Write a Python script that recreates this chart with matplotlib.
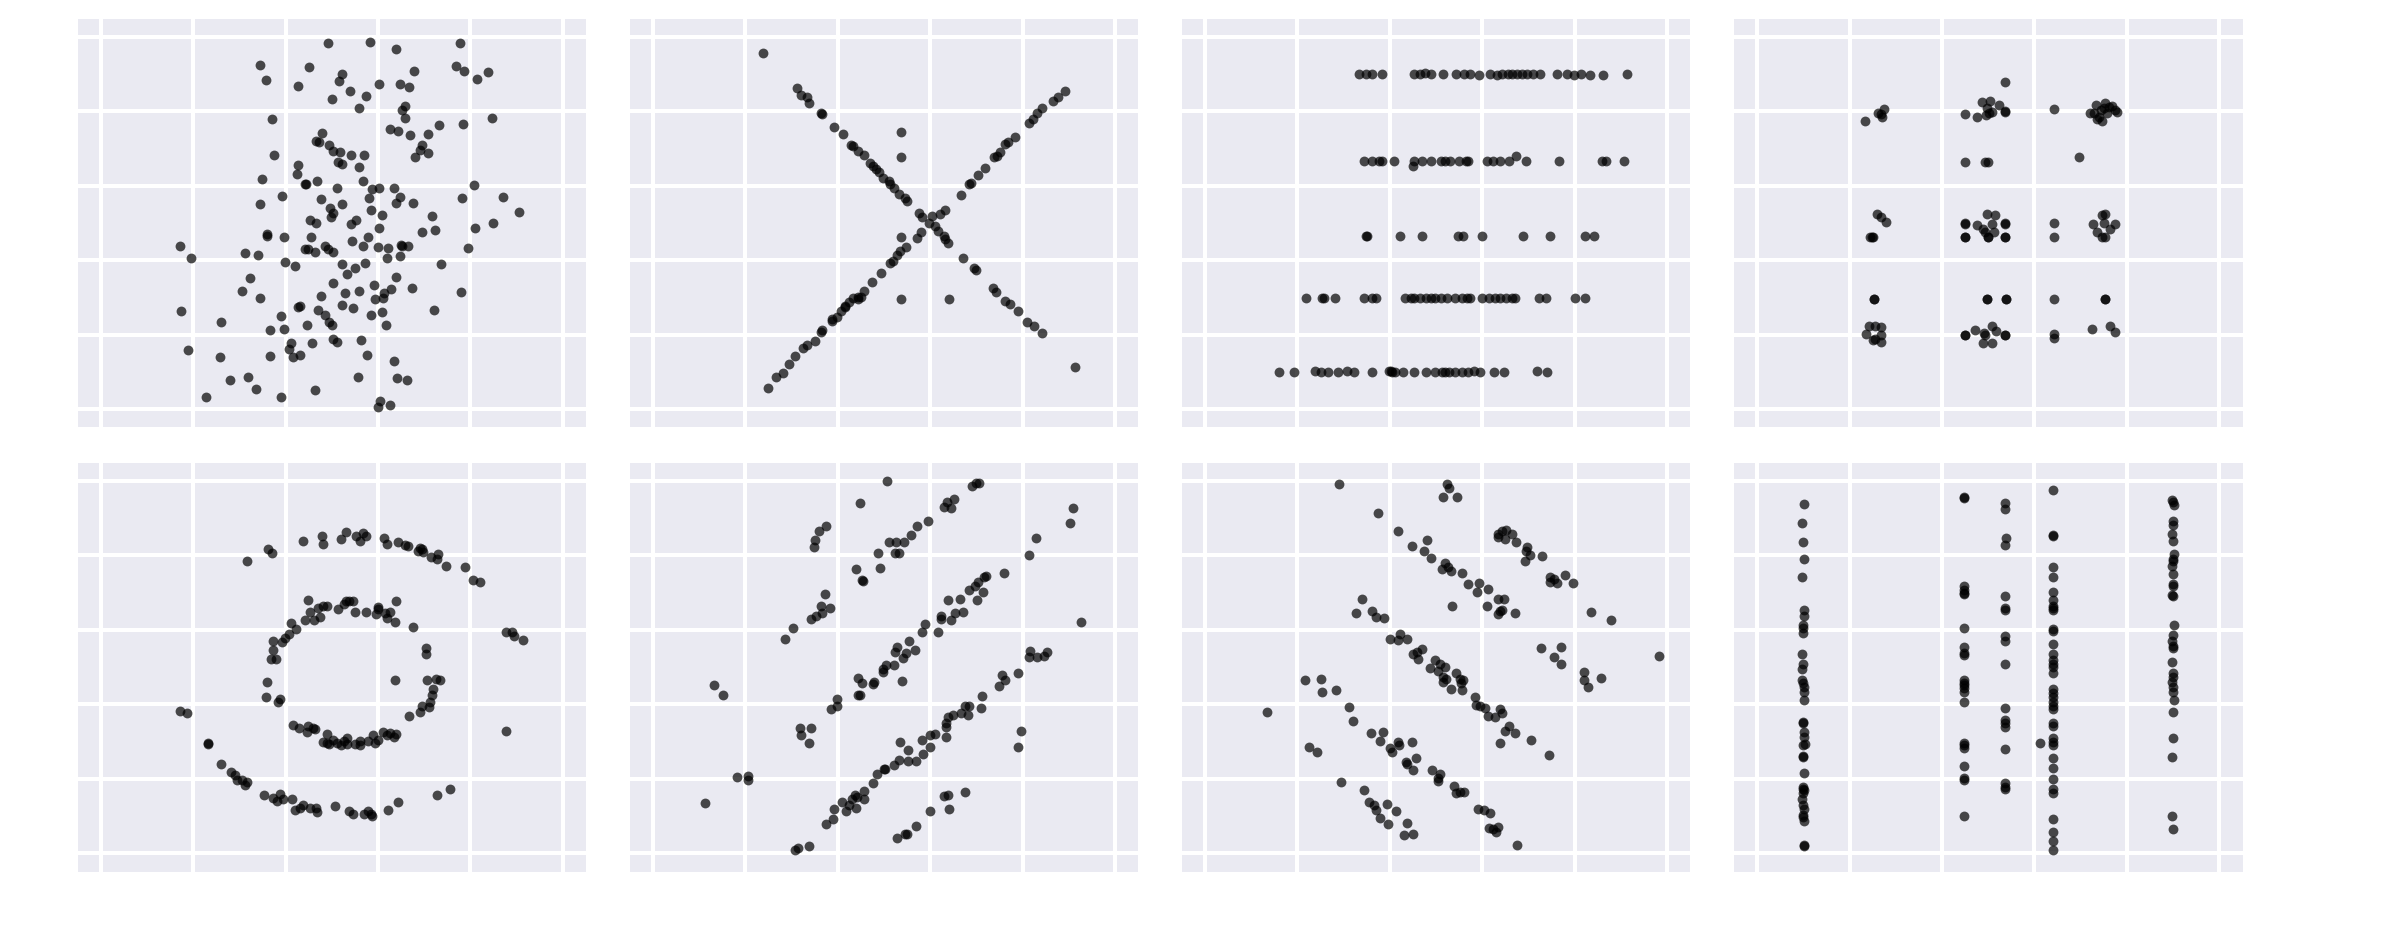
import matplotlib
matplotlib.use("Agg")
import matplotlib.pyplot as plt
import numpy as np

# ---------------- data ----------------
away_x = [49.2,58.3,63.9,77.8,34.5,45.1,52.2,51.6,35.7,42.7,60.2,64.7,66.7,67.8,76.9,78.6,81.5,83.8,53.9,57.5,
          50.0,56.0,65.8,65.2,65.8,37.1,84.6,78.4,73.2,62.7,64.3,66.9,70.9,48.0,46.7,47.2,49.5,69.6,69.2,70.9,
          68.1,50.2,51.7,54.2,57.0,37.5,51.4,52.2,56.0,42.7,42.4,34.9,44.2,44.5,46.9,56.7,51.2,58.7,60.3,63.4,
          80.8,39.3,34.5,47.7,58.1,64.7,63.8,67.6,52.3,78.2,87.0,90.6,49.6,50.2,49.8,58.6,60.9,71.7,45.2,46.7,
          55.2,54.2,60.3,69.5,72.4,81.0,84.9,36.1,36.0,39.7,45.6,57.9,54.4,17.2,48.5,49.2,50.2,44.2,44.9,46.3,
          56.7,59.9,62.1,65.0,65.2,66.5,79.4,64.7,62.0,19.5,31.3,34.0,39.8,42.0,52.2,55.1,57.2,73.6,53.2,63.9,
          32.4,50.3,59.2,62.8,67.4,30.6,52.8,55.9,61.3,47.7,34.5,78.0,59.4,61.1,52.2,54.5,42.8,43.1,47.0,17.4,
          72.1,58.5,60.9,39.0,48.6,26.0,49.4,50.0,44.7,61.7,36.7,39.6,50.2,51.1,56.4,45.7,41.2,40.8,19.0,25.9,
          36.6,41.6,43.2,57.6,63.4,31.9,27.9,55.6,64.1,66.2,33.6,46.3,22.8,39.1,60.4,59.9,62.5]
away_y = [98.5,98.7,96.9,98.3,92.5,92.0,90.0,88.2,88.5,86.9,87.4,87.5,86.5,90.9,92.1,91.0,88.7,90.5,85.4,84.2,
          83.4,81.0,81.4,80.4,78.2,77.9,78.3,76.7,76.4,75.2,74.7,73.8,73.9,74.1,72.0,71.8,70.9,70.9,69.6,68.8,
          67.8,69.4,69.1,68.3,68.3,68.3,66.3,65.9,65.0,65.6,63.1,61.8,60.6,60.4,61.2,61.4,59.3,59.1,59.5,59.5,
          60.2,57.3,55.1,56.5,56.8,56.9,55.5,55.3,55.0,56.8,57.1,52.9,53.9,52.7,51.5,53.5,52.1,51.8,50.7,49.9,
          50.7,49.8,48.6,47.6,48.0,48.7,49.9,47.0,46.6,46.3,46.2,46.3,45.2,43.8,43.9,43.0,42.1,43.1,43.1,42.1,
          43.7,43.6,43.3,44.2,43.7,43.7,43.4,41.2,40.6,40.5,41.8,41.3,39.6,38.5,39.0,37.8,39.2,39.0,36.4,35.5,
          35.1,33.8,33.2,32.3,32.5,31.8,31.3,31.8,31.2,30.4,29.7,31.5,29.6,29.9,27.9,27.2,27.4,27.7,26.7,26.4,
          26.6,25.3,26.1,25.0,25.2,23.5,23.5,22.5,22.7,22.7,21.3,21.5,18.9,17.9,18.5,17.6,17.6,16.1,15.9,13.9,
          14.1,14.0,14.5,14.6,12.8,8.5,7.7,8.7,8.4,7.7,5.4,5.2,3.3,3.2,2.1,0.6,1.0]

x_shape_x = [23.8,31.2,32.1,33.3,33.8,36.4,36.6,39.3,41.1,42.9,43.4,44.4,45.7,47.0,47.6,48.3,49.0,49.9,51.0,51.4,
             52.2,53.2,54.5,55.0,57.5,58.2,59.8,61.1,61.8,62.9,63.3,63.9,67.1,69.4,69.9,73.7,74.2,76.3,77.3,79.0,
             80.9,82.5,84.2,91.4,53.8,53.8,53.6,53.8,64.0,
             24.9,26.6,28.2,29.4,30.8,32.6,33.3,35.0,36.4,36.7,38.7,39.8,40.7,41.6,42.5,43.4,44.4,45.1,45.7,47.4,
             49.4,51.4,51.9,52.8,53.5,54.8,57.1,58.1,60.4,62.2,63.3,66.7,68.5,68.9,70.3,71.9,73.9,74.5,75.2,76.3,
             76.8,78.4,81.3,82.2,83.1,84.3,86.5,87.7,89.1,44.5,41.6,38.7]
x_shape_y = [95.6,86.4,84.5,84.0,82.4,79.7,79.3,75.9,73.9,71.0,70.7,69.4,68.2,66.2,65.3,64.6,63.8,62.1,61.2,60.6,
             59.3,57.9,56.8,55.8,52.7,51.6,50.1,49.1,47.8,46.4,45.8,44.6,40.7,37.9,37.4,32.6,31.4,29.1,28.1,26.4,
             23.4,22.2,20.3,11.2,74.5,67.8,46.2,29.5,29.5,
             5.6,8.6,9.7,12.2,14.3,16.3,17.2,18.2,20.6,21.2,23.7,24.6,26.4,27.8,28.8,29.9,30.2,30.2,31.8,34.0,
             36.5,39.2,39.9,41.5,42.6,43.5,46.0,47.6,51.8,52.5,53.6,57.6,60.6,60.8,63.0,64.7,67.8,68.0,69.2,71.2,
             71.8,73.2,76.8,77.9,79.5,80.8,82.9,84.0,85.6,29.6,27.3,24.1]

h_lines_x = [33.4,34.9,36.2,38.2,45.3,46.5,47.6,49.0,51.5,54.2,56.0,57.3,59.2,61.6,63.1,64.2,65.6,66.4,67.6,68.5,
             69.7,70.9,72.4,76.2,78.4,79.8,81.3,83.4,86.1,91.3,
             34.3,36.2,37.7,38.2,40.9,44.9,45.3,46.9,48.8,51.1,51.9,53.1,55.0,56.5,57.0,61.0,62.3,63.9,65.7,67.2,
             69.5,76.5,85.8,86.7,90.6,
             34.9,35.0,42.2,46.9,54.8,55.9,60.0,68.9,74.6,82.3,84.2,
             21.9,25.4,25.7,28.2,34.4,36.2,37.0,43.2,44.5,45.3,46.5,47.8,49.0,49.8,51.1,52.3,54.0,55.6,56.7,57.3,
             60.0,61.4,62.7,63.9,65.2,66.4,67.0,72.2,73.7,80.0,82.3,
             16.0,19.3,23.9,25.0,26.6,28.7,30.8,32.2,36.2,39.9,40.5,41.1,42.8,45.3,47.8,49.8,51.2,52.7,54.0,55.6,
             56.9,58.3,59.4,62.5,64.7,71.8,73.9,40.3,52.0]
h_lines_y = [90.0,90.0,90.2,90.0,90.0,90.0,90.3,90.0,90.0,90.2,90.0,90.1,89.8,90.1,89.9,90.0,90.1,90.0,90.0,90.1,
             90.0,90.0,90.2,90.0,90.0,89.9,90.0,89.9,89.9,90.0,
             66.6,66.6,66.6,66.6,66.6,65.3,66.6,66.6,66.6,66.6,66.6,66.6,66.6,66.6,66.6,66.6,66.6,66.6,66.6,68.0,
             66.6,66.6,66.6,66.6,66.6,
             46.4,46.4,46.4,46.4,46.4,46.4,46.4,46.4,46.4,46.4,46.4,
             29.9,29.9,29.9,29.9,29.9,29.9,29.9,29.9,29.9,29.9,29.9,29.9,29.9,29.9,29.9,29.9,29.9,29.9,29.9,29.9,
             29.9,29.9,29.9,29.9,29.9,29.9,29.9,29.9,29.9,29.9,29.9,
             9.9,9.9,10.1,9.9,10.0,9.9,10.1,9.9,9.9,10.1,9.8,9.9,10.0,9.9,9.8,10.0,9.9,10.0,9.9,10.0,
             9.9,10.1,9.9,10.0,9.8,10.2,9.9,10.1,9.9]

dots_x = [23.4,26.2,26.9,27.0,27.5,53.6,48.7,50.3,52.3,49.7,50.8,49.5,44.9,47.6,53.7,53.7,50.1,
          64.2,72.8,73.2,74.3,75.3,76.8,77.5,77.9,73.9,74.7,73.5,75.0,76.1,72.1,75.7,69.7,44.9,49.2,49.9,
          26.0,26.9,27.8,24.5,25.0,24.8,49.7,51.5,44.9,44.9,47.6,48.8,50.8,49.4,51.2,53.7,53.7,
          44.9,44.9,49.9,49.9,53.7,53.7,64.2,64.2,74.6,75.3,72.7,75.0,77.4,76.4,73.5,74.6,75.3,
          25.2,25.2,24.3,25.5,26.9,23.6,26.7,25.1,26.9,25.6,49.8,49.8,53.9,53.9,44.9,44.9,47.2,49.0,50.8,
          51.6,48.8,50.8,53.7,53.7,49.4,64.2,64.2,64.2,75.2,75.2,72.5,76.4,77.5]
dots_y = [77.5,79.5,79.3,78.6,80.6,88.0,82.6,82.9,81.7,80.8,79.9,79.0,79.3,78.6,79.9,80.1,79.5,
          80.6,79.5,81.7,80.4,82.2,81.5,80.4,79.9,78.6,77.5,78.1,80.9,81.3,79.7,79.5,67.8,66.3,66.3,66.3,
          52.5,51.6,50.3,46.1,46.1,46.1,52.5,52.2,50.0,49.6,49.4,48.5,49.6,47.6,47.6,50.1,49.7,
          46.1,46.1,46.1,46.1,46.1,46.1,50.1,46.1,52.1,52.5,49.6,50.0,49.6,48.5,47.6,46.1,46.1,
          29.5,29.5,22.4,22.4,21.9,20.1,20.0,18.5,17.9,18.8,29.5,29.5,29.5,29.5,20.0,20.0,21.2,20.3,22.4,
          21.0,17.6,17.6,20.0,20.0,20.0,29.5,20.1,19.0,29.5,29.5,21.5,22.4,20.6]

bullseye_x = [31.6,36.3,37.0,43.7,48.0,48.2,52.1,53.1,55.2,56.2,56.7,57.5,61.3,61.9,64.4,65.8,66.5,68.7,69.1,69.6,
              69.8,71.4,73.0,72.8,74.8,78.8,80.6,82.0,87.8,89.1,89.4,91.3,87.8,75.6,72.8,64.4,62.2,58.6,57.9,57.0,
              58.8,54.5,53.8,50.8,46.9,46.6,45.4,43.8,43.1,42.0,41.3,39.5,38.2,38.8,37.2,35.3,31.2,31.7,30.5,29.4,
              29.1,28.3,26.1,23.3,23.3,17.2,18.7,
              44.8,47.1,48.2,48.9,47.4,46.1,45.4,44.2,42.3,41.1,40.8,39.9,39.2,37.3,37.2,36.8,37.9,36.0,35.8,38.4,
              38.8,41.7,42.9,44.6,44.9,45.9,46.4,49.0,48.2,48.9,49.5,50.3,51.1,51.9,52.6,53.2,53.4,55.0,56.2,56.2,
              57.9,59.0,59.4,60.1,61.1,61.9,62.6,63.4,63.9,66.8,69.1,69.6,71.1,71.2,71.6,72.0,70.7,72.5,73.4,70.4,
              70.4,67.6,63.7,61.9,61.5,62.7,60.1,59.6,59.9,57.5,55.0,51.4,53.1,53.8,54.6,52.6,63.9,63.7]
bullseye_y = [78.6,81.7,80.7,84.0,85.1,83.1,84.4,86.2,85.3,83.8,86.0,85.3,84.7,83.1,83.5,82.9,82.6,81.3,82.0,81.7,
              80.8,79.5,80.4,79.0,77.2,76.8,73.4,72.8,59.3,59.5,58.4,57.3,32.7,17.2,15.5,13.6,11.6,10.4,11.2,10.4,
              9.8,10.4,11.3,12.5,11.0,12.2,12.2,12.9,12.1,11.6,14.6,14.6,14.0,15.8,14.9,15.5,18.2,19.1,19.7,19.7,
              20.9,21.8,23.9,29.3,29.5,38.1,37.6,
              68.0,65.8,66.5,66.5,63.5,62.6,64.7,62.6,60.2,61.8,59.0,57.9,56.6,57.0,54.6,52.2,52.2,46.1,41.9,40.6,
              41.3,34.4,33.5,32.6,34.1,33.5,33.2,32.0,29.9,29.6,29.3,30.5,29.6,29.0,30.2,30.8,29.3,29.3,29.0,30.0,
              30.2,31.8,29.6,30.5,32.6,31.7,32.3,31.1,32.0,36.8,37.9,39.5,39.2,40.6,42.4,44.2,46.4,46.7,46.4,55.2,
              53.6,60.8,62.2,63.3,64.4,64.9,66.2,64.2,65.6,64.9,64.7,65.6,67.8,67.8,67.8,66.9,67.8,46.5]

slant_up_x = [50.6,44.9,69.0,69.9,70.5,63.1,63.6,65.1,64.6,59.5,57.1,55.9,54.3,52.6,51.0,48.8,52.3,53.3,44.0,49.2,
              45.4,45.2,37.4,36.0,35.0,34.8,37.2,36.4,38.4,36.6,35.3,34.2,30.4,28.6,90.8,90.3,82.8,81.3,75.9,72.1,
              71.6,70.3,69.6,68.3,71.4,70.2,66.5,63.9,67.2,65.4,64.6,62.4,62.4,58.8,58.2,61.7,55.5,52.8,52.5,56.8,
              54.8,54.2,52.1,50.4,49.9,49.7,44.5,45.2,47.8,47.6,53.9,44.5,44.9,39.8,39.8,38.6,92.7,85.3,81.5,81.3,
              83.1,84.6,79.1,75.5,76.1,74.8,71.2,71.1,68.5,67.5,68.2,66.7,64.9,63.9,63.4,63.4,63.4,61.1,60.0,58.2,
              60.0,58.4,55.3,55.2,56.9,53.4,53.3,52.1,50.1,50.3,48.5,47.6,45.8,45.6,44.2,43.1,43.7,44.0,42.4,41.8,
              40.9,39.3,38.9,37.5,33.7,31.4,30.8,79.7,79.0,67.6,63.1,63.9,64.0,60.0,56.9,54.5,54.9,52.8,31.9,34.3,
              32.0,33.7,13.3,15.1,18.3,20.5,20.7,11.3]
slant_up_y = [99.9,94.2,98.7,99.6,99.5,93.0,94.3,95.2,92.8,89.2,88.0,85.6,83.5,83.5,83.7,80.7,80.7,80.7,76.3,76.6,
              73.0,73.4,87.9,86.7,84.2,82.4,69.6,66.5,66.0,64.4,63.8,62.9,60.6,57.6,92.8,88.8,84.6,80.1,75.2,74.5,
              74.3,72.8,71.9,70.7,70.1,68.1,68.3,68.0,64.7,64.5,62.6,63.8,62.9,61.5,59.3,59.4,57.0,55.5,54.1,54.6,
              53.9,52.5,50.5,50.5,49.4,48.7,47.1,45.8,46.0,45.3,46.2,42.4,42.6,41.5,39.5,38.8,62.0,54.1,54.3,52.8,
              52.7,53.0,48.5,47.8,46.4,44.9,42.3,39.0,39.5,39.5,37.2,37.5,37.0,36.5,35.0,33.8,31.2,32.0,31.8,30.5,
              28.4,26.6,27.6,24.8,24.6,29.8,25.0,23.7,22.5,22.7,21.1,18.9,16.7,14.6,15.1,14.6,15.6,12.1,12.9,11.2,
              13.8,11.8,9.2,7.8,1.9,1.4,0.8,32.7,28.6,16.3,15.2,15.5,11.9,11.2,7.3,5.0,5.2,4.1,33.6,33.6,
              31.8,29.6,45.1,42.6,20.3,20.6,19.6,13.4]

slant_down_x = [29.0,52.3,52.9,51.6,54.5,37.5,41.7,48.0,44.8,47.4,48.9,52.0,52.5,51.3,53.2,55.6,57.0,59.2,58.8,61.2,
                63.5,64.6,61.0,63.8,63.5,64.3,67.1,53.4,63.3,64.3,65.2,63.5,64.9,66.4,67.3,69.7,69.5,70.3,69.3,72.9,
                74.7,75.5,74.6,76.2,77.8,79.6,83.6,87.9,33.9,32.7,36.1,37.0,38.8,40.1,42.1,41.7,43.8,46.9,45.8,45.0,
                46.0,49.8,50.9,52.0,48.6,50.5,54.4,51.5,52.2,51.6,55.2,55.9,55.4,53.2,55.6,58.5,58.7,59.4,60.6,63.8,
                64.3,61.2,62.8,65.7,65.0,67.1,70.5,74.4,63.9,72.8,77.0,75.6,77.1,82.1,82.1,82.8,85.7,98.2,21.7,25.1,
                25.3,28.4,13.5,31.1,32.1,35.9,38.5,37.8,40.1,40.4,41.7,41.9,44.8,22.6,24.3,43.5,43.8,45.0,45.7,49.1,
                50.9,50.5,50.5,53.9,54.4,56.0,55.2,29.5,34.4,35.4,36.5,37.0,37.8,39.4,41.4,39.5,43.7,43.1,45.0,59.1,
                60.3,61.6,61.4,62.3,63.3,63.0,67.5]
slant_down_y = [99.3,99.1,98.2,95.7,95.7,91.5,86.7,84.2,82.6,81.1,79.2,77.9,76.8,76.3,75.7,75.4,72.3,72.6,70.1,71.0,
                68.3,68.3,66.3,65.1,64.2,65.3,64.5,66.3,85.8,86.5,86.9,84.9,84.4,85.8,83.5,82.4,81.3,80.2,78.4,79.8,
                74.1,73.7,72.8,72.5,74.8,72.5,64.7,62.6,68.4,64.5,65.1,63.5,63.1,57.5,59.0,57.2,57.4,54.8,54.1,53.6,
                52.2,51.8,50.9,50.0,49.6,48.9,48.5,47.3,46.7,46.0,46.9,46.4,45.8,44.2,43.7,42.0,39.9,39.5,39.0,38.6,
                37.7,36.8,36.5,34.1,32.7,32.2,30.5,26.3,29.6,55.2,55.5,52.7,50.7,48.7,46.5,44.7,47.1,52.9,46.4,46.9,
                43.3,43.7,38.0,39.2,35.4,32.3,32.6,30.0,28.1,27.2,29.9,29.0,29.8,28.6,27.2,24.5,23.9,22.4,25.5,22.4,
                21.2,20.1,19.4,18.0,16.1,16.5,16.3,19.2,16.8,13.6,12.9,11.6,9.5,13.2,11.2,7.8,8.0,4.7,5.0,11.9,
                11.6,10.7,6.8,6.5,6.9,5.6,2.2]

v_lines_x = [10.1,9.7,10.0,10.2,9.8,10.2,10.1,10.0,9.9,10.0,9.7,9.9,9.8,9.7,10.0,10.2,10.1,10.2,9.9,10.0,
             10.2,10.1,10.3,10.0,9.9,10.0,10.2,9.9,10.0,10.1,9.9,9.8,9.9,10.1,10.0,9.9,10.1,10.2,10.2,
             44.8,44.8,44.8,44.8,44.8,44.8,44.8,44.8,44.8,44.8,44.8,44.8,44.8,44.8,44.8,44.8,44.8,44.8,44.8,44.8,
             44.8,44.8,44.8,
             53.6,53.6,53.9,53.6,53.6,53.6,53.6,53.6,53.6,53.6,53.6,53.6,53.6,53.6,53.6,53.6,53.6,53.6,
             64.0,64.0,64.0,64.0,64.0,64.0,64.0,64.0,64.0,64.0,64.0,64.0,64.0,64.0,64.0,64.0,64.0,64.0,64.0,64.0,
             64.0,64.0,64.0,64.0,64.0,64.0,64.0,64.0,64.0,64.0,64.0,64.0,64.0,64.0,64.0,64.0,64.0,64.0,61.2,
             89.8,90.0,90.1,89.9,90.0,89.8,90.0,90.1,89.9,90.0,89.8,90.0,89.9,90.0,89.8,90.0,90.1,89.9,89.7,90.0,
             89.9,89.8,89.9,90.0,89.8,89.9,90.0,90.1,89.9,90.0,89.8,89.7,89.9]
v_lines_y = [93.9,88.8,83.6,79.1,74.2,65.4,63.6,61.4,60.5,59.1,53.5,50.8,49.4,46.5,45.6,44.7,43.4,41.1,35.3,35.0,
             32.4,31.3,29.2,29.0,26.1,25.9,21.6,17.8,17.3,16.9,16.0,14.6,12.8,11.7,10.2,9.7,8.5,2.2,1.8,
             95.7,95.5,71.7,70.8,69.9,69.5,60.6,55.5,53.7,53.3,46.5,45.6,45.2,44.3,43.4,40.7,29.6,29.0,28.1,23.4,
             20.2,19.6,9.9,
             94.2,92.5,84.7,82.9,69.2,65.9,65.4,58.4,57.1,50.9,38.9,35.8,34.9,33.8,27.9,18.7,17.8,17.1,
             97.6,85.6,85.3,76.8,74.1,70.1,67.9,66.3,65.9,65.3,60.2,59.8,56.2,53.5,51.9,50.8,49.9,48.5,44.0,42.9,
             41.8,40.7,39.5,38.6,34.9,34.1,30.8,29.9,29.0,25.4,22.9,19.8,17.3,16.0,9.0,5.6,3.1,0.7,29.6,
             94.8,94.3,93.7,89.4,88.3,85.8,84.0,80.5,79.1,78.4,77.1,75.0,72.3,71.7,69.4,69.0,61.2,58.5,57.1,55.7,
             55.1,51.3,48.3,47.2,46.1,44.7,43.4,41.1,38.0,31.0,25.9,10.0,6.3]

ticks = [0, 20, 40, 60, 80, 100]

panels = [(away_x, away_y), (x_shape_x, x_shape_y), (h_lines_x, h_lines_y), (dots_x, dots_y),
          (bullseye_x, bullseye_y), (slant_up_x, slant_up_y), (slant_down_x, slant_down_y), (v_lines_x, v_lines_y)]

# ---------------- figure ----------------
W, H = 2385, 942
fig, axes = plt.subplots(2, 4, figsize=(W / 100, H / 100), dpi=100, sharex=True, sharey=True)
fig.subplots_adjust(left=77.5 / W, right=2242.5 / W, bottom=1 - 871.5 / H, top=1 - 18.5 / H,
                    wspace=0.0859, hspace=0.0856)

for ax, (xs, ys) in zip(axes.flat, panels):
    ax.set_facecolor("#EAEAF2")
    ax.scatter(xs, ys, s=50, c="black", alpha=0.7, linewidths=0, zorder=3)
    ax.set_xlim(-5, 105)
    ax.set_ylim(-5, 105)
    ax.set_xticks(ticks)
    ax.set_yticks(ticks)
    ax.tick_params(length=0, labelbottom=False, labelleft=False)
    ax.grid(True, color="white", linewidth=2.9)
    ax.set_axisbelow(True)
    for sp in ax.spines.values():
        sp.set_visible(False)

fig.savefig("out.png", dpi=100, facecolor="white")
